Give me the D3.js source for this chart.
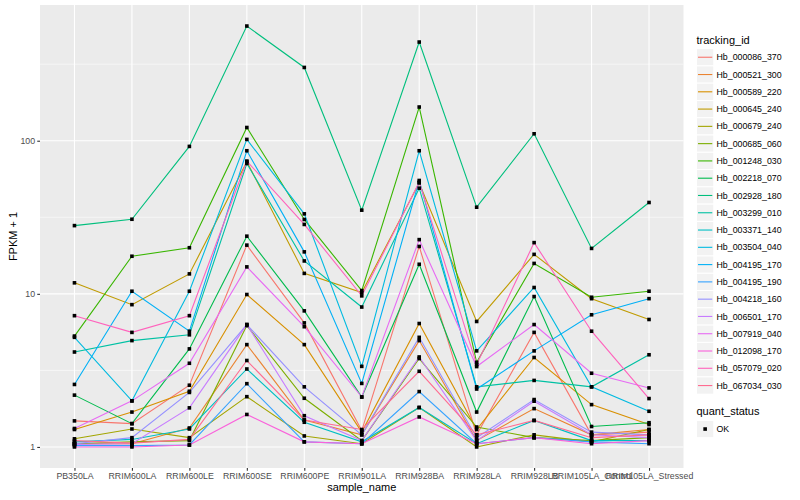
<!DOCTYPE html>
<html>
<head>
<meta charset="utf-8">
<script src="https://cdn.jsdelivr.net/npm/d3@7"></script>
<style>
  body { margin: 0; background: #fff; }
  svg { display: block; font-family: "Liberation Sans", Arial, sans-serif; }
</style>
</head>
<body>
<div id="chart"></div>
<script>
// categories on the x axis
const samples = ["PB350LA", "RRIM600LA", "RRIM600LE", "RRIM600SE", "RRIM600PE", "RRIM901LA",
  "RRIM928BA", "RRIM928LA", "RRIM928LB", "RRIM105LA_Control", "RRIM105LA_Stressed"];

const trackingIds = ["Hb_000086_370", "Hb_000521_300", "Hb_000589_220", "Hb_000645_240",
  "Hb_000679_240", "Hb_000685_060", "Hb_001248_030", "Hb_002218_070", "Hb_002928_180",
  "Hb_003299_010", "Hb_003371_140", "Hb_003504_040", "Hb_004195_170", "Hb_004195_190",
  "Hb_004218_160", "Hb_006501_170", "Hb_007919_040", "Hb_012098_170", "Hb_057079_020",
  "Hb_067034_030"];

// FPKM + 1, one array per tracking_id
const hb_000086_370 = [1.48, 1.42, 2.53, 20.8, 6.46, 1.28, 20.4, 1.20, 5.6, 1.20, 1.25];
const hb_000521_300 = [1.05, 1.05, 1.33, 4.66, 1.50, 1.20, 4.95, 1.10, 1.78, 1.20, 1.30];
const hb_000589_220 = [1.30, 1.69, 2.31, 9.9, 4.66, 1.25, 6.4, 1.30, 3.84, 1.89, 1.40];
const hb_000645_240 = [11.8, 8.5, 13.5, 73, 13.6, 10.2, 53, 6.6, 18.1, 9.3, 6.8];
const hb_000679_240 = [1.13, 1.31, 1.15, 2.13, 1.18, 1.05, 1.81, 1.00, 1.20, 1.08, 1.30];
const hb_000685_060 = [1.05, 1.08, 1.10, 6.2, 2.08, 1.10, 3.78, 1.35, 1.15, 1.10, 1.15];
const hb_001248_030 = [5.3, 17.6, 20, 122, 30.6, 10.5, 166, 3.57, 15.8, 9.5, 10.4];
const hb_002218_070 = [2.18, 1.42, 4.37, 23.8, 7.74, 2.12, 15.6, 1.69, 9.6, 1.36, 1.44];
const hb_002928_180 = [27.9, 30.7, 91.8, 561, 301, 35.2, 441, 36.8, 111, 19.8, 39.5];
const hb_003299_010 = [4.17, 4.95, 5.4, 71, 16.4, 8.2, 49, 2.47, 2.72, 2.47, 4.0];
const hb_003371_140 = [1.08, 1.12, 1.31, 3.23, 1.45, 1.08, 1.81, 1.05, 1.49, 1.10, 1.10];
const hb_003504_040 = [5.2, 2.0, 10.4, 102, 33.3, 3.36, 86, 4.24, 11, 2.47, 1.71];
const hb_004195_170 = [2.56, 10.4, 5.7, 86, 18.8, 2.6, 55, 2.39, 4.24, 7.3, 9.3];
const hb_004195_190 = [1.02, 1.02, 1.03, 2.59, 1.08, 1.05, 2.3, 1.05, 1.15, 1.08, 1.05];
const hb_004218_160 = [1.05, 1.15, 2.27, 6.3, 2.47, 1.20, 5.2, 1.15, 2.04, 1.25, 1.20];
const hb_006501_170 = [1.04, 1.05, 1.80, 6.3, 1.60, 1.10, 3.87, 1.10, 1.99, 1.20, 1.15];
const hb_007919_040 = [1.32, 2.0, 3.52, 15, 6.1, 2.12, 22.6, 3.35, 6.3, 3.03, 2.43];
const hb_012098_170 = [1.00, 1.00, 1.03, 1.63, 1.08, 1.05, 1.57, 1.05, 1.15, 1.05, 1.10];
const hb_057079_020 = [7.2, 5.6, 7.2, 73.6, 28.4, 9.7, 53.6, 3.45, 21.6, 5.7, 2.07];
const hb_067034_030 = [1.10, 1.06, 1.12, 3.67, 1.50, 1.30, 3.12, 1.20, 1.49, 1.15, 1.20];

const seriesValues = [hb_000086_370, hb_000521_300, hb_000589_220, hb_000645_240,
  hb_000679_240, hb_000685_060, hb_001248_030, hb_002218_070, hb_002928_180,
  hb_003299_010, hb_003371_140, hb_003504_040, hb_004195_170, hb_004195_190,
  hb_004218_160, hb_006501_170, hb_007919_040, hb_012098_170, hb_057079_020,
  hb_067034_030];

const quantStatus = ["OK"];
const yTicks = [1, 10, 100];
const yMinorTicks = [3.1623, 31.623, 316.23];

// ggplot default hue palette for 20 levels
const palette = ["#F8766D", "#EA8331", "#D89000", "#C09B00", "#A3A500", "#7CAE00", "#39B600",
  "#00BB4E", "#00BF7D", "#00C1A3", "#00BFC4", "#00BAE0", "#00B0F6", "#35A2FF", "#9590FF",
  "#C77CFF", "#E76BF3", "#FA62DB", "#FF62BC", "#FF6C91"];

const width = 800, height = 500;
const panel = { left: 40, right: 683.5, top: 5, bottom: 468 };

const svg = d3.select("#chart").append("svg")
  .attr("width", width)
  .attr("height", height);

// scales
const x = d3.scalePoint()
  .domain(samples)
  .range([panel.left, panel.right])
  .padding(0.6);

const allVals = seriesValues.flat();
const lo = Math.log10(d3.min(allVals)), hi = Math.log10(d3.max(allVals));
const pad = (hi - lo) * 0.05;
const y = d3.scaleLog()
  .domain([Math.pow(10, lo - pad), Math.pow(10, hi + pad)])
  .range([panel.bottom, panel.top]);

// panel background + grid
svg.append("rect")
  .attr("x", panel.left).attr("y", panel.top)
  .attr("width", panel.right - panel.left)
  .attr("height", panel.bottom - panel.top)
  .attr("fill", "#EBEBEB");

const grid = svg.append("g");
grid.selectAll("line.minor").data(yMinorTicks).enter().append("line")
  .attr("x1", panel.left).attr("x2", panel.right)
  .attr("y1", d => y(d)).attr("y2", d => y(d))
  .attr("stroke", "#fff").attr("stroke-width", 0.55);
grid.selectAll("line.majy").data(yTicks).enter().append("line")
  .attr("x1", panel.left).attr("x2", panel.right)
  .attr("y1", d => y(d)).attr("y2", d => y(d))
  .attr("stroke", "#fff").attr("stroke-width", 1.1);
grid.selectAll("line.majx").data(samples).enter().append("line")
  .attr("x1", d => x(d)).attr("x2", d => x(d))
  .attr("y1", panel.top).attr("y2", panel.bottom)
  .attr("stroke", "#fff").attr("stroke-width", 1.1);

// lines
const line = d3.line()
  .x((d, i) => x(samples[i]))
  .y(d => y(d));

svg.append("g").selectAll("path")
  .data(seriesValues)
  .enter().append("path")
  .attr("d", line)
  .attr("fill", "none")
  .attr("stroke", (d, i) => palette[i])
  .attr("stroke-width", 1.1);

// points
const pts = [];
seriesValues.forEach(s => s.forEach((v, i) => pts.push({ s: samples[i], v })));
const ps = 3.6;
svg.append("g").selectAll("rect")
  .data(pts)
  .enter().append("rect")
  .attr("x", d => x(d.s) - ps / 2)
  .attr("y", d => y(d.v) - ps / 2)
  .attr("width", ps).attr("height", ps)
  .attr("fill", "#000");

// axes
const yAxis = svg.append("g")
  .attr("transform", `translate(${panel.left},0)`)
  .call(d3.axisLeft(y).tickValues(yTicks).tickFormat(d3.format("d")).tickSize(2.75).tickPadding(2.2));
const xAxis = svg.append("g")
  .attr("transform", `translate(0,${panel.bottom})`)
  .call(d3.axisBottom(x).tickSize(2.75).tickPadding(2.2));

[yAxis, xAxis].forEach(a => {
  a.select(".domain").remove();
  a.selectAll(".tick line").attr("stroke", "#333333").attr("stroke-width", 1.1);
  a.selectAll(".tick text")
    .attr("fill", "#4D4D4D")
    .style("font-size", "8.8px")
    .style("font-family", "'Liberation Sans', Arial, sans-serif");
});

// axis titles
svg.append("text")
  .attr("x", (panel.left + panel.right) / 2)
  .attr("y", 491)
  .attr("text-anchor", "middle")
  .style("font-size", "11px")
  .text("sample_name");

svg.append("text")
  .attr("transform", `translate(16.5,${(panel.top + panel.bottom) / 2}) rotate(-90)`)
  .attr("text-anchor", "middle")
  .style("font-size", "11px")
  .text("FPKM + 1");

// legend: tracking_id
const keyX = 696.5, keySize = 17.28, labelX = 716.5;
const leg = svg.append("g");
leg.append("text")
  .attr("x", keyX).attr("y", 43.5)
  .style("font-size", "11px")
  .text("tracking_id");

const keyTop = 48.6;
const entries = leg.selectAll("g.entry")
  .data(trackingIds)
  .enter().append("g")
  .attr("transform", (d, i) => `translate(0,${keyTop + i * keySize})`);
entries.append("rect")
  .attr("x", keyX).attr("y", 0)
  .attr("width", keySize).attr("height", keySize)
  .attr("fill", "#F2F2F2").attr("stroke", "#fff").attr("stroke-width", 1);
entries.append("line")
  .attr("x1", keyX + 1.5).attr("x2", keyX + keySize - 1.5)
  .attr("y1", keySize / 2).attr("y2", keySize / 2)
  .attr("stroke", (d, i) => palette[i])
  .attr("stroke-width", 1.1);
entries.append("text")
  .attr("x", labelX).attr("y", keySize / 2)
  .attr("dy", "0.35em")
  .style("font-size", "8.8px")
  .text(d => d);

// legend: quant_status
leg.append("text")
  .attr("x", keyX).attr("y", 414.5)
  .style("font-size", "11px")
  .text("quant_status");
const qs = leg.selectAll("g.qs")
  .data(quantStatus)
  .enter().append("g")
  .attr("transform", (d, i) => `translate(0,${420.4 + i * keySize})`);
qs.append("rect")
  .attr("x", keyX).attr("y", 0)
  .attr("width", keySize).attr("height", keySize)
  .attr("fill", "#F2F2F2").attr("stroke", "#fff").attr("stroke-width", 1);
qs.append("rect")
  .attr("x", keyX + keySize / 2 - ps / 2).attr("y", keySize / 2 - ps / 2)
  .attr("width", ps).attr("height", ps)
  .attr("fill", "#000");
qs.append("text")
  .attr("x", labelX).attr("y", keySize / 2)
  .attr("dy", "0.35em")
  .style("font-size", "8.8px")
  .text(d => d);
</script>
</body>
</html>
